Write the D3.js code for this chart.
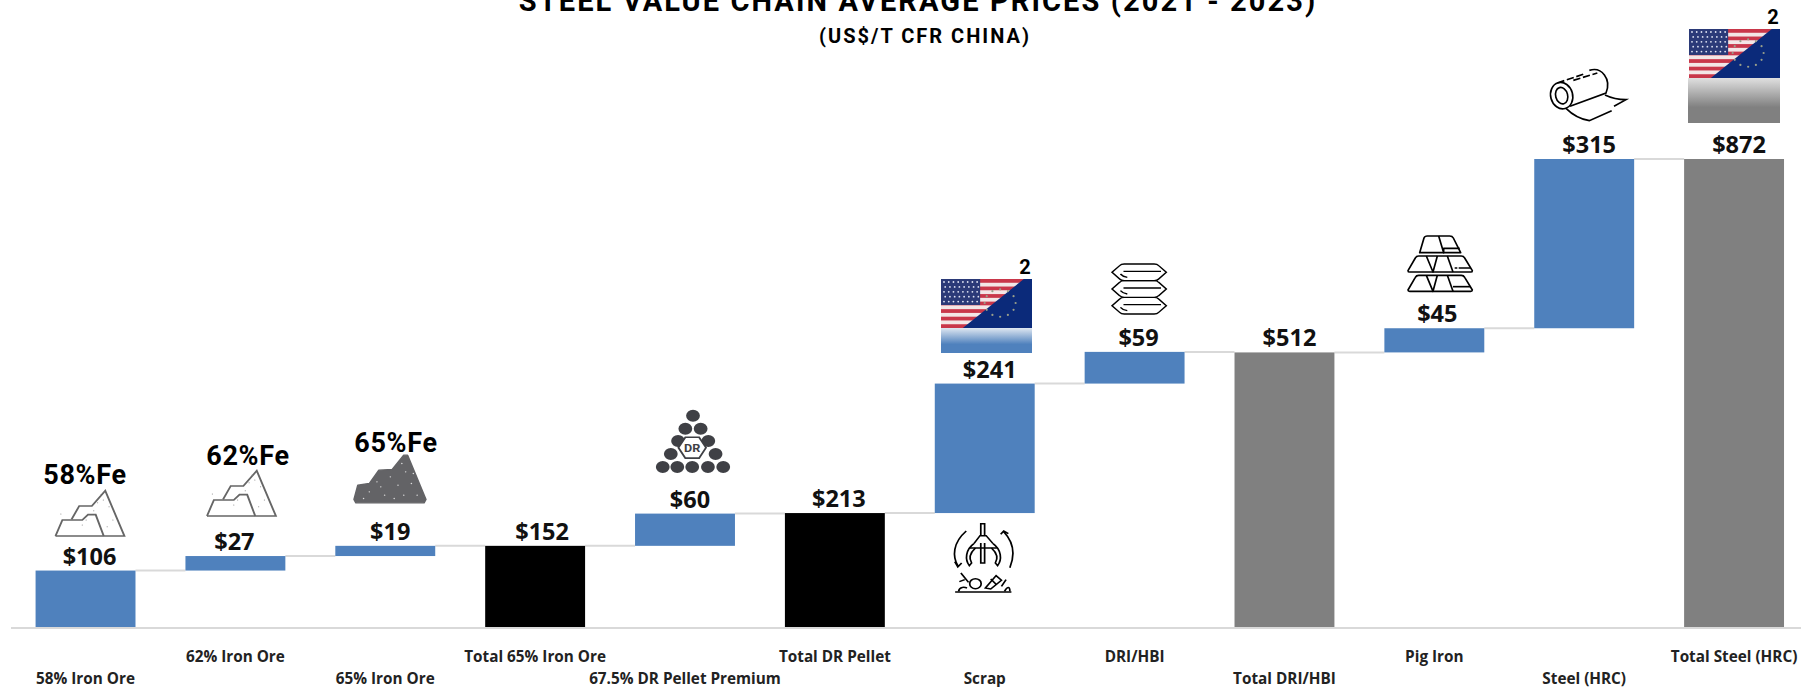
<!DOCTYPE html>
<html>
<head>
<meta charset="utf-8">
<script src="https://cdn.jsdelivr.net/npm/d3@7"></script>
<style>
    html, body { margin: 0; padding: 0; background: #fff; overflow: hidden; }
    svg { display: block; }
    .val { font-family: "Open Sans", sans-serif; font-weight: 700; font-size: 23.5px; fill: #111; text-anchor: middle; }
    .cat { font-family: "Open Sans", sans-serif; font-weight: 700; font-size: 15.3px; fill: #222; text-anchor: middle; }
    .din { font-family: Roboto, sans-serif; font-weight: 700; fill: #000; }
</style>
</head>
<body>
<div id="chart"></div>
<script>
// 数据
const categories = ["58% Iron Ore", "62% Iron Ore", "65% Iron Ore", "Total 65% Iron Ore", "67.5% DR Pellet Premium", "Total DR Pellet",
    "Scrap", "DRI/HBI", "Total DRI/HBI", "Pig Iron", "Steel (HRC)", "Total Steel (HRC)"];
const values = [106, 27, 19, 152, 60, 213, 241, 59, 512, 45, 315, 872];
const kinds = ["step", "step", "step", "totalBlack", "step", "totalBlack", "step", "step", "totalGrey", "step", "step", "totalGrey"];
const feLabels = ["58%Fe", "62%Fe", "65%Fe"];

const colors = { step: "#4f81bd", totalBlack: "#000000", totalGrey: "#808080" };
const W = 1801, H = 687;

const svg = d3.select("#chart").append("svg").attr("width", W).attr("height", H);
const defs = svg.append("defs");

const x = d3.scaleBand().domain(categories).range([10.6, 1809]).paddingInner(1 / 3).paddingOuter(1 / 6);
const y = d3.scaleLinear().domain([0, 872]).range([627.5, 159]);

// 累计值：合计柱从 0 开始，其余柱接在上一根后面
let running = 0;
const bars = categories.map((c, i) => {
    const total = kinds[i] !== "step";
    const start = total ? 0 : running;
    const end = total ? values[i] : running + values[i];
    running = end;
    return { c, i, start, end, kind: kinds[i], value: values[i] };
});

// 连接线
svg.selectAll(".link").data(bars.slice(0, -1)).join("line")
    .attr("x1", d => x(d.c) + x.bandwidth())
    .attr("x2", d => x(bars[d.i + 1].c))
    .attr("y1", d => y(d.end))
    .attr("y2", d => y(d.end))
    .attr("stroke", "#d9d9d9").attr("stroke-width", 2);

svg.selectAll(".bar").data(bars).join("rect")
    .attr("x", d => x(d.c))
    .attr("y", d => y(d.end))
    .attr("width", x.bandwidth())
    .attr("height", d => y(d.start) - y(d.end))
    .attr("fill", d => colors[d.kind]);

// 基线
svg.append("line").attr("x1", 11).attr("x2", W).attr("y1", y(0) + 0.5).attr("y2", y(0) + 0.5)
    .attr("stroke", "#d9d9d9").attr("stroke-width", 2);

// 数值标签，原图有些偏右
const labelDx = [4, -1, 5, 7, 5, 4, 5, 4, 5, 3, 5, 5];
svg.selectAll(".val").data(bars).join("text").attr("class", "val")
    .attr("x", d => x(d.c) + x.bandwidth() / 2 + labelDx[d.i])
    .attr("y", d => y(d.end) - 6)
    .text(d => "$" + d.value);

// 类别标签，错开两行
svg.selectAll(".cat").data(bars).join("text").attr("class", "cat")
    .attr("x", d => x(d.c) + x.bandwidth() / 2)
    .attr("y", d => d.i % 2 === 0 ? 684 : 662)
    .text(d => d.c);

// 标题
svg.append("text").attr("class", "din").attr("x", 918).attr("y", 11).attr("text-anchor", "middle")
    .attr("font-size", 29).attr("letter-spacing", 2.1).text("STEEL VALUE CHAIN AVERAGE PRICES (2021 - 2023)");
svg.append("text").attr("class", "din").attr("x", 925).attr("y", 43).attr("text-anchor", "middle")
    .attr("font-size", 20).attr("letter-spacing", 2).text("(US$/T CFR CHINA)");

// Fe 标签
[[85, 484], [248, 465], [396, 452]].forEach((p, i) => {
    svg.append("text").attr("class", "din").attr("x", p[0]).attr("y", p[1]).attr("text-anchor", "middle")
        .attr("font-size", 27).attr("letter-spacing", 0.7).text(feLabels[i]);
});

// 图标都按放大图里的坐标画，再缩回来
function icon(ox, oy, kx, ky) {
    return svg.append("g").attr("transform", `translate(${ox},${oy}) scale(${kx},${ky || kx})`);
}
const kx = 1 / 2.613, ky = 1 / 3;

function mountainOutline(ox, oy) {
    const g = icon(ox, oy, kx, ky).attr("fill", "none").attr("stroke", "#666").attr("stroke-width", 5);
    g.append("path").attr("d", "M0,138H180L130,2L95,48H62L42,88");
    g.append("path").attr("d", "M0,138L18,90H70L85,74H105L126,138");
    [[118, 15], [125, 30], [110, 38], [140, 50], [100, 62], [150, 90], [80, 90], [70, 105], [14, 72], [135, 110]].forEach(p => {
        g.append("circle").attr("cx", p[0]).attr("cy", p[1]).attr("r", 1.5).attr("stroke", "none").attr("fill", "#888");
    });
}
mountainOutline(55.5, 490);
mountainOutline(207, 470);

// 实心矿石
{
    const g = icon(354, 453.5, kx, ky);
    g.append("path").attr("fill", "#636366").attr("stroke", "#636366").attr("stroke-width", 4).attr("stroke-linejoin", "round")
        .attr("d", "M5,148L0,138L10,95L40,90L65,50L100,48L130,5H140L188,138L183,148Z");
    [[125, 30], [95, 70], [135, 55], [60, 85], [115, 95], [150, 90], [40, 115], [80, 125], [130, 125], [165, 125], [25, 135], [105, 135], [70, 100], [155, 60]].forEach(p => {
        g.append("circle").attr("cx", p[0]).attr("cy", p[1]).attr("r", 2).attr("fill", "#ddd");
    });
}

// DR 球团
{
    const g = icon(600, 240, kx, ky).attr("fill", "#3f4045");
    [[164, 681], [202, 681], [241, 681], [282, 681], [322, 681], [243, 527], [223, 566], [263, 566], [204, 603], [283, 603], [185, 642], [302, 642]].forEach(p => {
        g.append("circle").attr("cx", p[0]).attr("cy", p[1]).attr("r", 18);
    });
    g.append("path").attr("fill", "#fff").attr("stroke", "#3f4045").attr("stroke-width", 5)
        .attr("d", d3.range(6).map(i => {
            const a = Math.PI / 3 * i;
            return (i ? "L" : "M") + (241 + 36 * Math.cos(a)) + "," + (623 + 36 * Math.sin(a));
        }).join("") + "Z");
    g.append("text").attr("x", 241).attr("y", 635).attr("text-anchor", "middle")
        .attr("font-family", "Roboto").attr("font-weight", 700).attr("font-size", 33).text("DR");
}

// 美/欧旗 + 下面的渐变
function flag(id, fx, fy, w, h, gradTop, gradBottom, gradH, gx, gw) {
    const grad = defs.append("linearGradient").attr("id", "grad" + id).attr("x1", 0).attr("y1", 0).attr("x2", 0).attr("y2", 1);
    grad.append("stop").attr("offset", "0%").attr("stop-color", gradTop);
    grad.append("stop").attr("offset", "65%").attr("stop-color", gradBottom);
    svg.append("rect").attr("x", gx).attr("y", fy + h).attr("width", gw).attr("height", gradH).attr("fill", `url(#grad${id})`);

    defs.append("clipPath").attr("id", "clip" + id).append("rect").attr("width", w).attr("height", h);
    const g = svg.append("g").attr("transform", `translate(${fx},${fy})`).attr("clip-path", `url(#clip${id})`);
    d3.range(13).forEach(i => {
        g.append("rect").attr("y", i * h / 13).attr("width", w).attr("height", h / 13 + 0.5)
            .attr("fill", i % 2 ? "#f3e6e6" : "#c9374a");
    });
    g.append("rect").attr("width", w * 0.43).attr("height", h * 0.53).attr("fill", "#2b3a78");
    d3.range(5).forEach(r => d3.range(8).forEach(c => {
        g.append("circle").attr("cx", 3 + c * w * 0.052 + (r % 2) * 1.2).attr("cy", 3 + r * h * 0.1).attr("r", 0.9).attr("fill", "#dfe3f3");
    }));
    g.append("path").attr("fill", "#0b2a7a")
        .attr("d", `M${w * 0.91},0H${w}V${h}H${w * 0.24}Z`);
    d3.range(12).forEach(i => {
        const a = Math.PI / 6 * i;
        g.append("circle").attr("cx", w * 0.65 + w * 0.17 * Math.cos(a)).attr("cy", h * 0.49 + h * 0.28 * Math.sin(a))
            .attr("r", 1.1).attr("fill", "#9a9f8a");
    });
    svg.append("text").attr("class", "din").attr("x", fx + w - 7).attr("y", fy - 5).attr("text-anchor", "middle")
        .attr("font-size", 20).text("2");
}
flag("a", 941, 279, 91, 49, "#dfe7f1", "#4f81bd", 25, 941, 91);
flag("b", 1689, 29, 91, 49, "#e0e0e0", "#808080", 45, 1688, 92);

// 废钢抓斗
{
    const g = icon(954, 523, kx, ky).attr("fill", "none").attr("stroke", "#000").attr("stroke-width", 4.5);
    g.append("path").attr("d", "M70,38V2H80V38");
    g.append("path").attr("d", "M52,62L68,38H84L102,62");
    g.append("path").attr("d", "M40,75H112");
    g.append("path").attr("d", "M70,60V120H80V60");
    g.append("path").attr("d", "M52,62C30,80 28,110 40,128L46,120C38,105 42,90 56,75");
    g.append("path").attr("d", "M102,62C124,80 126,110 114,128L108,120C116,105 112,90 98,75");
    g.append("path").attr("d", "M32,24C-4,60 -4,100 10,128M2,116L10,132L20,120");
    g.append("path").attr("d", "M130,26C158,60 158,100 146,134M122,34L130,24L142,32");
    g.append("path").attr("d", "M3,207H150");
    g.append("path").attr("d", "M12,205C14,190 28,192 34,195M18,150L38,178M28,170L14,176");
    g.append("circle").attr("cx", 56).attr("cy", 182).attr("r", 15);
    g.append("path").attr("d", "M82,195L110,158L124,172L96,198ZM96,168L112,186");
    g.append("path").attr("d", "M124,190L136,170M132,205C140,190 146,190 146,205");
}

// DRI/HBI 压块
{
    const g = icon(1112, 264, kx, ky).attr("fill", "#fff").attr("stroke", "#000").attr("stroke-width", 4);
    [100, 50, 0].forEach(dy => {
        const s = g.append("g").attr("transform", `translate(0,${dy})`);
        s.append("path").attr("d", "M0,25L20,5Q24,0 32,0H110Q118,0 122,5L142,25L122,45Q118,50 110,50H32Q24,50 20,45Z");
        s.append("path").attr("fill", "none").attr("d", "M30,22H128M22,30Q28,38 40,40");
    });
}

// 生铁锭
{
    const g = icon(1408, 236, 1 / 3).attr("fill", "none").attr("stroke", "#000").attr("stroke-width", 5).attr("stroke-linejoin", "round");
    g.append("path").attr("d", "M35,50L48,6Q50,0 58,0H125Q133,0 136,6L158,50Z");
    g.append("path").attr("d", "M92,0L107,50V37H155");
    [60, 118].forEach((dy, i) => {
        const s = g.append("g").attr("transform", `translate(0,${dy})`);
        s.append("path").attr("d", "M0,44L22,6Q25,0 32,0H160Q167,0 170,6L193,44Q193,48 188,48H5Q0,48 0,44Z");
        s.append("path").attr("d", "M55,0L75,48L88,0");
        s.append("path").attr("d", "M118,0L135,48");
        s.append("path").attr("d", i ? "M135,34H188" : "M140,36H188").attr("stroke-dasharray", i ? null : "8 4 40 0");
    });
}

// 钢卷
{
    const g = icon(1550, 69, 1 / 3).attr("fill", "none").attr("stroke", "#000").attr("stroke-width", 5);
    g.append("ellipse").attr("cx", 35).attr("cy", 80).attr("rx", 33).attr("ry", 40).attr("transform", "rotate(-15 35 80)");
    g.append("ellipse").attr("cx", 35).attr("cy", 80).attr("rx", 18).attr("ry", 25).attr("transform", "rotate(-15 35 80)");
    g.append("path").attr("d", "M22,42L105,14M70,34L142,12").attr("stroke-dasharray", "22 8");
    g.append("path").attr("d", "M118,4C155,-8 185,30 168,72L60,112");
    g.append("path").attr("d", "M165,78C190,90 205,92 228,92L192,112M185,125L118,155C90,150 65,135 48,118");
}
</script>
</body>
</html>
